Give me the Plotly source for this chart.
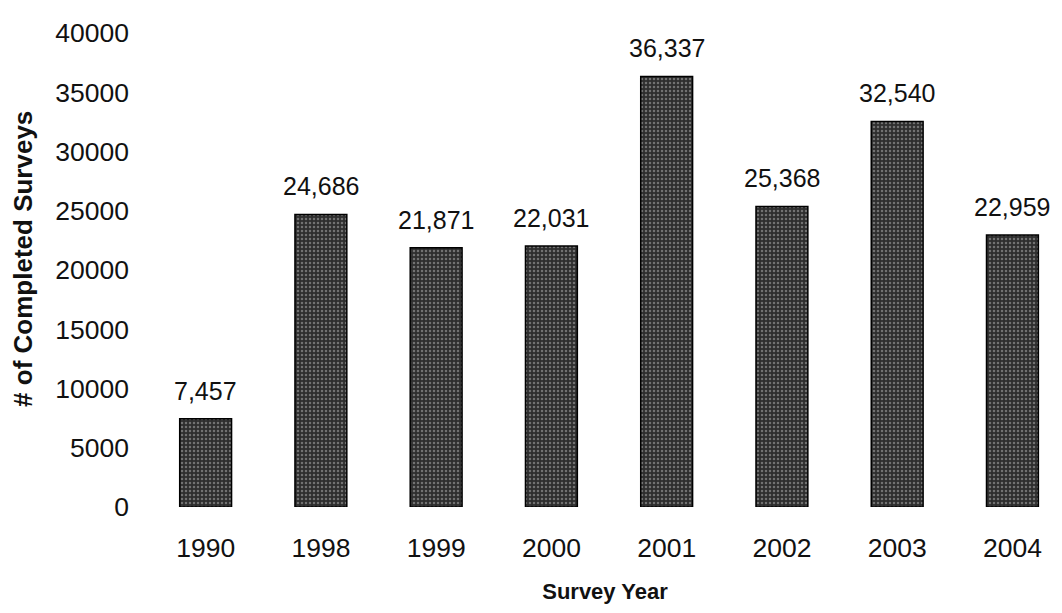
import plotly.graph_objects as go

years = ["1990", "1998", "1999", "2000", "2001", "2002", "2003", "2004"]
surveys = [7457, 24686, 21871, 22031, 36337, 25368, 32540, 22959]
y_ticks = [0, 5000, 10000, 15000, 20000, 25000, 30000, 35000, 40000]

FONT = "Liberation Sans, Arial, sans-serif"

fig = go.Figure(
    go.Bar(
        x=years,
        y=surveys,
        width=0.45,
        cliponaxis=False,
        marker=dict(
            color="#333",
            line=dict(color="#000", width=1.5),
            pattern=dict(shape=".", fgcolor="#b5b5b5", bgcolor="#2e2e2e", size=4, solidity=0.3),
        ),
    )
)

for i, v in enumerate(surveys):
    fig.add_annotation(
        x=i, y=v, text=f"{v:,}", showarrow=False,
        xref="x", yref="y",
        yanchor="bottom", yshift=12,
        font=dict(family=FONT, size=25, color="#111"),
    )

fig.add_annotation(
    text="<b># of Completed Surveys</b>", textangle=-90, showarrow=False,
    xref="paper", yref="paper", x=-0.137, y=0.523,
    xanchor="center", yanchor="middle",
    font=dict(family=FONT, size=26, color="#111"),
)

fig.update_layout(
    width=1062,
    height=613,
    margin=dict(l=148, r=0, t=33, b=106),
    paper_bgcolor="white",
    plot_bgcolor="white",
    font=dict(family=FONT, color="#111"),
    showlegend=False,
    xaxis=dict(
        type="category",
        range=[-0.5, 7.43],
        showgrid=False,
        showline=False,
        ticks="",
        tickfont=dict(size=26.5),
        ticklabelstandoff=22,
        title=dict(text="<b>Survey Year</b>", font=dict(size=22), standoff=22),
    ),
    yaxis=dict(
        range=[0, 40000],
        tickvals=y_ticks,
        ticktext=[str(v) for v in y_ticks],
        showgrid=False,
        zeroline=False,
        showline=False,
        ticks="",
        tickfont=dict(size=26.5),
        ticklabelstandoff=18,
    ),
)

fig.write_html("out.html")
